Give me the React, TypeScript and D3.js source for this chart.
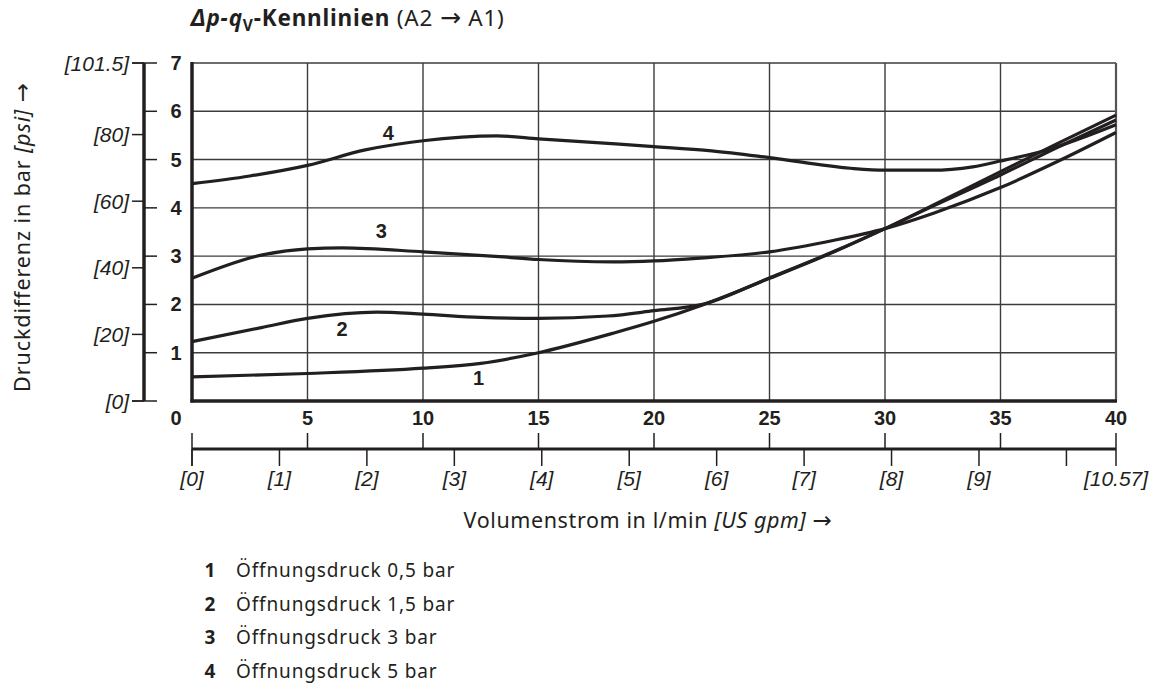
import React from "react";
import * as d3 from "d3";

// ---- data ----
const flowTicks = [0, 5, 10, 15, 20, 25, 30, 35, 40]; // l/min
const gpmTicks = [0, 1, 2, 3, 4, 5, 6, 7, 8, 9, 10]; // US gpm
const gpmLabels = ["[0]", "[1]", "[2]", "[3]", "[4]", "[5]", "[6]", "[7]", "[8]", "[9]", ""];
const barTicks = [0, 1, 2, 3, 4, 5, 6, 7];
const psiTicks = [0, 20, 40, 60, 80, 101.5];
const psiLabels = ["[0]", "[20]", "[40]", "[60]", "[80]", "[101.5]"];

const q1 = [0, 5, 10, 12.5, 15, 18.2, 20, 22.1, 25, 27.8, 30, 32.1, 35, 37.5, 40];
const v1 = [0.5, 0.57, 0.68, 0.78, 1.0, 1.4, 1.65, 1.99, 2.54, 3.09, 3.57, 4.06, 4.75, 5.34, 5.92];

const q2 = [0, 3, 5, 8, 10, 12.5, 15, 18, 20, 22.1, 25, 27.8, 30, 32.1, 35, 37.5, 40];
const v2 = [1.23, 1.52, 1.71, 1.84, 1.8, 1.73, 1.71, 1.76, 1.87, 2.0, 2.55, 3.1, 3.57, 4.04, 4.68, 5.26, 5.82];

const q3 = [0, 3, 5, 6.5, 10, 13.3, 15, 18.2, 20, 22, 25, 27.8, 30, 32.1, 35, 37.6, 40];
const v3 = [2.54, 3.02, 3.15, 3.17, 3.09, 2.99, 2.93, 2.88, 2.9, 2.96, 3.09, 3.33, 3.57, 3.89, 4.42, 4.99, 5.56];

const q4 = [0, 2.5, 5, 7.5, 10, 13.2, 15, 17.5, 20, 22.5, 25, 28.5, 30, 32, 33.8, 35, 37, 40];
const v4 = [4.5, 4.66, 4.88, 5.2, 5.39, 5.49, 5.43, 5.35, 5.27, 5.18, 5.04, 4.82, 4.78, 4.78, 4.85, 4.97, 5.2, 5.72];

const curveLabels = ["1", "2", "3", "4"];
const curveLabelPos = [
  [12.4, 0.47],
  [6.5, 1.5],
  [8.2, 3.52],
  [8.5, 5.55],
];
const legendTexts = [
  "Öffnungsdruck 0,5 bar",
  "Öffnungsdruck 1,5 bar",
  "Öffnungsdruck 3 bar",
  "Öffnungsdruck 5 bar",
];

const GPM = 3.78541;
const PSI = 14.5;

const INK = "#231f20";
const GRID = "#3c3c3c";
const SANS = "'Noto Sans', 'Open Sans', sans-serif";
const ARROW = "'DejaVu Sans', sans-serif";
const NARROW = "'Liberation Sans Narrow', 'Liberation Sans', Arial, sans-serif";
const ITAL = "'Liberation Sans', Arial, sans-serif";

export default function App() {
  const W = 1151;
  const H = 684;
  const x = d3.scaleLinear().domain([0, 40]).range([192, 1116]);
  const y = d3.scaleLinear().domain([0, 7]).range([401, 63]);
  const line = d3
    .line<[number, number]>()
    .x((d) => x(d[0]))
    .y((d) => y(d[1]))
    .curve(d3.curveMonotoneX);

  const series = [
    d3.zip(q1, v1),
    d3.zip(q2, v2),
    d3.zip(q3, v3),
    d3.zip(q4, v4),
  ] as [number, number][][];

  const psiX = 144;
  const gpmY = 449;

  return (
    <svg width={W} height={H} style={{ display: "block", position: "absolute", left: 0, top: 0 }}>
      <rect width={W} height={H} fill="#fff" />
      {/* Title */}
      <text x={191} y={26} fontFamily={SANS} fontSize={22.5} fill={INK} letterSpacing={0.8}>
        <tspan fontWeight="bold" fontStyle="italic">Δp-q</tspan>
        <tspan fontWeight="bold" fontSize={15.5} dy={5}>V</tspan>
        <tspan fontWeight="bold" dy={-5}>-Kennlinien</tspan>
        <tspan> (A2 </tspan>
        <tspan fontFamily={ARROW} fontSize={25}>→</tspan>
        <tspan> A1)</tspan>
      </text>

      {/* grid */}
      {barTicks.slice(1, 7).map((v) => (
        <line key={"h" + v} x1={x(0)} x2={x(40)} y1={y(v)} y2={y(v)} stroke={GRID} strokeWidth={1.4} />
      ))}
      {flowTicks.slice(1, 8).map((q) => (
        <line key={"v" + q} x1={x(q)} x2={x(q)} y1={y(7)} y2={y(0)} stroke={GRID} strokeWidth={1.4} />
      ))}
      {/* frame */}
      <line x1={x(0)} x2={x(40)} y1={y(7)} y2={y(7)} stroke={GRID} strokeWidth={1.6} />
      <line x1={x(40)} x2={x(40)} y1={y(7)} y2={y(0)} stroke="#555" strokeWidth={2.2} />
      <line x1={x(0)} x2={x(0)} y1={y(7) - 1} y2={y(0) + 1.5} stroke={INK} strokeWidth={3.5} />
      <line x1={x(0) - 1.5} x2={x(40) + 1} y1={y(0)} y2={y(0)} stroke={INK} strokeWidth={3.5} />

      {/* curves */}
      {series.map((s, i) => (
        <path key={"c" + i} d={line(s) || ""} fill="none" stroke={INK} strokeWidth={3.2} strokeLinejoin="round" />
      ))}
      {curveLabels.map((t, i) => (
        <text
          key={"cl" + i}
          x={x(curveLabelPos[i][0])}
          y={y(curveLabelPos[i][1])}
          fontFamily={NARROW}
          fontWeight="bold"
          fontSize={20}
          textAnchor="middle"
          dominantBaseline="central"
          fill={INK}
        >
          {t}
        </text>
      ))}

      {/* left dual axis */}
      <line x1={psiX} x2={psiX} y1={y(7)} y2={y(0)} stroke={INK} strokeWidth={3.5} />
      {barTicks.map((v) => (
        <line
          key={"bt" + v}
          x1={v === 0 || v === 7 ? psiX - 12 : psiX}
          x2={psiX + 13}
          y1={y(v)}
          y2={y(v)}
          stroke={INK}
          strokeWidth={1.5}
        />
      ))}
      {psiTicks.map((p) => (
        <line key={"pt" + p} x1={psiX - 12} x2={psiX} y1={y(p / PSI)} y2={y(p / PSI)} stroke={INK} strokeWidth={1.5} />
      ))}
      {barTicks.slice(1).map((v) => (
        <text
          key={"bl" + v}
          x={176}
          y={y(v)}
          fontFamily={NARROW}
          fontWeight="bold"
          fontSize={20}
          textAnchor="middle"
          dominantBaseline="central"
          fill={INK}
        >
          {v}
        </text>
      ))}
      {psiTicks.map((p, i) => (
        <text
          key={"pl" + p}
          x={129}
          y={y(p / PSI)}
          fontFamily={ITAL}
          fontStyle="italic"
          fontSize={21}
          textAnchor="end"
          dominantBaseline="central"
          fill={INK}
        >
          {psiLabels[i]}
        </text>
      ))}

      {/* bottom dual axis */}
      {flowTicks.map((q) => (
        <text
          key={"fl" + q}
          x={q === 0 ? 176 : x(q)}
          y={418}
          fontFamily={NARROW}
          fontWeight="bold"
          fontSize={20}
          textAnchor="middle"
          dominantBaseline="central"
          fill={INK}
        >
          {q}
        </text>
      ))}
      <line x1={x(0)} x2={x(40)} y1={gpmY} y2={gpmY} stroke={INK} strokeWidth={3.2} />
      {flowTicks.map((q) => (
        <line
          key={"ft" + q}
          x1={x(q)}
          x2={x(q)}
          y1={gpmY - 16}
          y2={q === 0 || q === 40 ? gpmY + 17 : gpmY}
          stroke={INK}
          strokeWidth={1.5}
        />
      ))}
      {gpmTicks.map((g) => (
        <line key={"gt" + g} x1={x(g * GPM)} x2={x(g * GPM)} y1={gpmY} y2={gpmY + 17} stroke={INK} strokeWidth={1.5} />
      ))}
      {gpmTicks.map((g, i) =>
        gpmLabels[i] ? (
          <text
            key={"gl" + g}
            x={x(g * GPM)}
            y={478}
            fontFamily={ITAL}
            fontStyle="italic"
            fontSize={21}
            textAnchor="middle"
            dominantBaseline="central"
            fill={INK}
          >
            {gpmLabels[i]}
          </text>
        ) : null
      )}
      <text x={x(40)} y={478} fontFamily={ITAL} fontStyle="italic" fontSize={21} textAnchor="middle" dominantBaseline="central" fill={INK}>
        [10.57]
      </text>

      {/* axis titles */}
      <text x={648} y={528} fontFamily={SANS} fontSize={21.5} textAnchor="middle" fill={INK} letterSpacing={0.6}>
        Volumenstrom in l/min <tspan fontStyle="italic">[US gpm]</tspan>{" "}
        <tspan fontFamily={ARROW} fontSize={23}>→</tspan>
      </text>
      <text
        transform="translate(30,237) rotate(-90)"
        fontFamily={SANS}
        fontSize={21.5}
        textAnchor="middle"
        fill={INK}
        letterSpacing={0.9}
      >
        Druckdifferenz in bar <tspan fontStyle="italic">[psi]</tspan>{" "}
        <tspan fontFamily={ARROW} fontSize={23}>→</tspan>
      </text>

      {/* legend */}
      {legendTexts.map((t, i) => (
        <g key={"lg" + i}>
          <text x={210} y={577 + i * 33.7} fontFamily={SANS} fontWeight="bold" fontSize={19} textAnchor="middle" fill={INK}>
            {curveLabels[i]}
          </text>
          <text x={236} y={577 + i * 33.7} fontFamily={SANS} fontSize={19} fill={INK} letterSpacing={0.85}>
            {t}
          </text>
        </g>
      ))}
    </svg>
  );
}
